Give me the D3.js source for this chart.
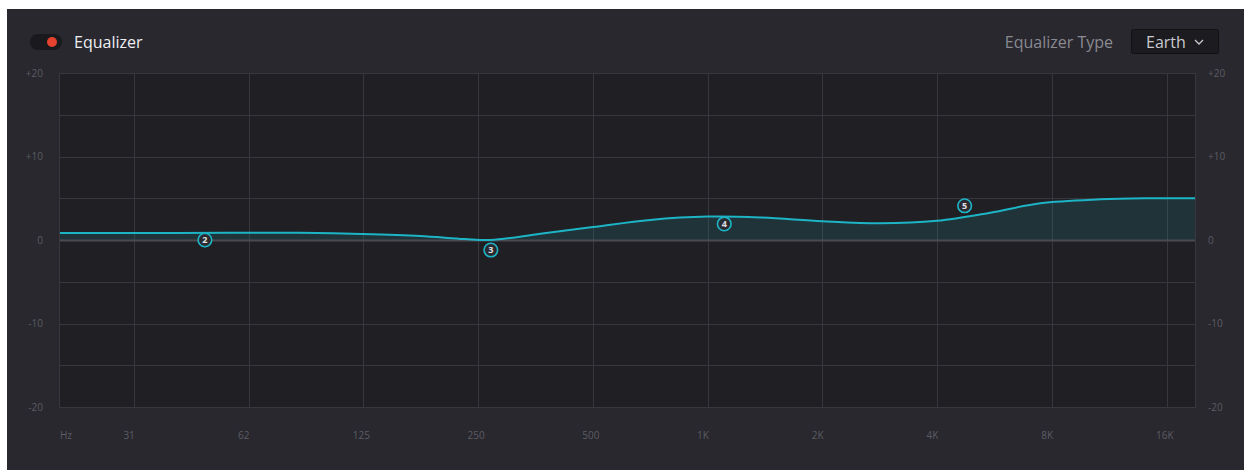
<!DOCTYPE html>
<html>
<head>
<meta charset="utf-8">
<script src="https://cdn.jsdelivr.net/npm/d3@7"></script>
<style>
  html, body { margin: 0; padding: 0; background: #ffffff; }
  svg { display: block; }
  text { font-family: "Open Sans", "Noto Sans", sans-serif; }
</style>
</head>
<body>
<svg id="chart" width="1244" height="470"></svg>
<script>
// ---- data ----
const tickFreqs = [31.25, 62.5, 125, 250, 500, 1000, 2000, 4000, 8000, 16000];
const tickLabels = ["31", "62", "125", "250", "500", "1K", "2K", "4K", "8K", "16K"];
const gainTicks = [-20, -10, 0, 10, 20];
const gainTickLabels = ["-20", "-10", "0", "+10", "+20"];
const gridGains = [-20, -15, -10, -5, 0, 5, 10, 15, 20];

const curveFreq = [20, 40, 60, 85, 123, 176, 230, 270, 364, 500, 707, 1000, 1375, 2000, 2839, 4000, 5519, 7465, 10730, 14000, 19000];
const curveGain = [0.85, 0.85, 0.86, 0.86, 0.72, 0.48, 0.12, 0.0, 0.75, 1.55, 2.4, 2.8, 2.7, 2.25, 2.0, 2.3, 3.27, 4.4, 4.87, 5.0, 5.0];

const bandIds = ["2", "3", "4", "5"];
const bandFreq = [48, 270, 1106, 4725];
const bandGain = [0, -1.2, 1.92, 4.1];

const title = "Equalizer";
const typeLabel = "Equalizer Type";
const typeValue = "Earth";

// ---- layout ----
const svg = d3.select("#chart");
const W = 1244, H = 470;
const plot = { left: 60, right: 1195, top: 73, bottom: 407 };

// panel background
svg.append("rect").attr("x", 7).attr("y", 9).attr("width", W - 7).attr("height", H - 9).attr("fill", "#28282e");

const x = d3.scaleLog().domain([20, 19000]).range([plot.left, plot.right]);
const y = d3.scaleLinear().domain([-20, 20]).range([plot.bottom, plot.top]);

// plot background
svg.append("rect")
  .attr("x", plot.left).attr("y", plot.top)
  .attr("width", plot.right - plot.left).attr("height", plot.bottom - plot.top)
  .attr("fill", "#201f24");

// grid
const grid = svg.append("g");
grid.selectAll("line.h").data(gridGains).join("line")
  .attr("x1", plot.left).attr("x2", plot.right)
  .attr("y1", d => Math.round(y(d)) + 0.5).attr("y2", d => Math.round(y(d)) + 0.5)
  .attr("stroke", "#38373d").attr("stroke-width", 1);
grid.selectAll("line.v").data(tickFreqs).join("line")
  .attr("x1", d => Math.round(x(d)) + 0.5).attr("x2", d => Math.round(x(d)) + 0.5)
  .attr("y1", plot.top).attr("y2", plot.bottom)
  .attr("stroke", "#38373d").attr("stroke-width", 1);

// plot border
svg.append("rect")
  .attr("x", plot.left - 0.5).attr("y", plot.top + 0.5)
  .attr("width", plot.right - plot.left + 1).attr("height", plot.bottom - plot.top)
  .attr("fill", "none").attr("stroke", "#38373d");

// curve
const pts = curveFreq.map((f, i) => [f, curveGain[i]]);
const area = d3.area()
  .x(d => x(d[0])).y0(y(0)).y1(d => y(d[1]))
  .curve(d3.curveCatmullRom.alpha(0.5));
const line = d3.line()
  .x(d => x(d[0])).y(d => y(d[1]))
  .curve(d3.curveCatmullRom.alpha(0.5));

svg.append("path").datum(pts).attr("d", area).attr("fill", "#1c9aa8").attr("fill-opacity", 0.17);

// zero line
svg.append("line")
  .attr("x1", plot.left).attr("x2", plot.right)
  .attr("y1", y(0) + 0.5).attr("y2", y(0) + 0.5)
  .attr("stroke", "#4b4a50").attr("stroke-width", 2);

svg.append("path").datum(pts).attr("d", line)
  .attr("fill", "none").attr("stroke", "#1db4c6").attr("stroke-width", 2);

// band nodes
const nodes = svg.append("g").selectAll("g").data(bandIds).join("g")
  .attr("transform", (d, i) => `translate(${x(bandFreq[i])},${y(bandGain[i])})`);
nodes.append("circle").attr("r", 6.8)
  .attr("fill", "#2b2a30").attr("stroke", "#1db4c6").attr("stroke-width", 1.6);
nodes.append("text").text(d => d)
  .attr("text-anchor", "middle").attr("dy", "0.36em")
  .attr("font-size", 9).attr("font-weight", 700).attr("fill", "#e0e0e4");

// y axes
const yAxisL = d3.axisLeft(y).tickValues(gainTicks).tickSize(0)
  .tickFormat((d, i) => gainTickLabels[i]);
const gL = svg.append("g").attr("transform", "translate(43,0)").call(yAxisL);
gL.select(".domain").remove();
gL.selectAll("text").attr("x", 0).attr("dy", "0.34em").attr("fill", "#5d5c63")
  .attr("font-size", 10).attr("font-family", "'Open Sans', sans-serif");

const yAxisR = d3.axisRight(y).tickValues(gainTicks).tickSize(0)
  .tickFormat((d, i) => gainTickLabels[i]);
const gR = svg.append("g").attr("transform", "translate(1208,0)").call(yAxisR);
gR.select(".domain").remove();
gR.selectAll("text").attr("x", 0).attr("dy", "0.34em").attr("fill", "#5d5c63")
  .attr("font-size", 10).attr("font-family", "'Open Sans', sans-serif");

// x axis
const xAxis = d3.axisBottom(x).tickValues(tickFreqs).tickSize(0)
  .tickFormat((d, i) => tickLabels[i]);
const gX = svg.append("g").attr("transform", "translate(0,435)").call(xAxis);
gX.select(".domain").remove();
gX.selectAll("text").attr("y", 0).attr("dy", "0.35em").attr("dx", -11)
  .attr("text-anchor", "start").attr("fill", "#5d5c63")
  .attr("font-size", 10).attr("font-family", "'Open Sans', sans-serif");
svg.append("text").text("Hz").attr("x", plot.left).attr("y", 435).attr("dy", "0.35em")
  .attr("fill", "#5d5c63").attr("font-size", 10);

// header: toggle + title
svg.append("rect").attr("x", 30).attr("y", 34).attr("width", 32).attr("height", 16).attr("rx", 8)
  .attr("fill", "#1a191d");
svg.append("circle").attr("cx", 52).attr("cy", 42).attr("r", 5).attr("fill", "#e5432f");
svg.append("text").text(title).attr("x", 74).attr("y", 48)
  .attr("font-size", 16).attr("fill", "#eeeef2");

// header: equalizer type
svg.append("text").text(typeLabel).attr("x", 1113).attr("y", 48).attr("text-anchor", "end")
  .attr("font-size", 16).attr("fill", "#8b8a91");
svg.append("rect").attr("x", 1131.5).attr("y", 29.5).attr("width", 87).attr("height", 24).attr("rx", 2)
  .attr("fill", "#1c1b1f").attr("stroke", "#111113");
svg.append("text").text(typeValue).attr("x", 1146).attr("y", 47.5)
  .attr("font-size", 16).attr("fill", "#c9c9ce");
svg.append("path").attr("d", "M1195,40 L1199,44 L1203,40")
  .attr("fill", "none").attr("stroke", "#c9c9ce").attr("stroke-width", 1.3);
</script>
</body>
</html>
